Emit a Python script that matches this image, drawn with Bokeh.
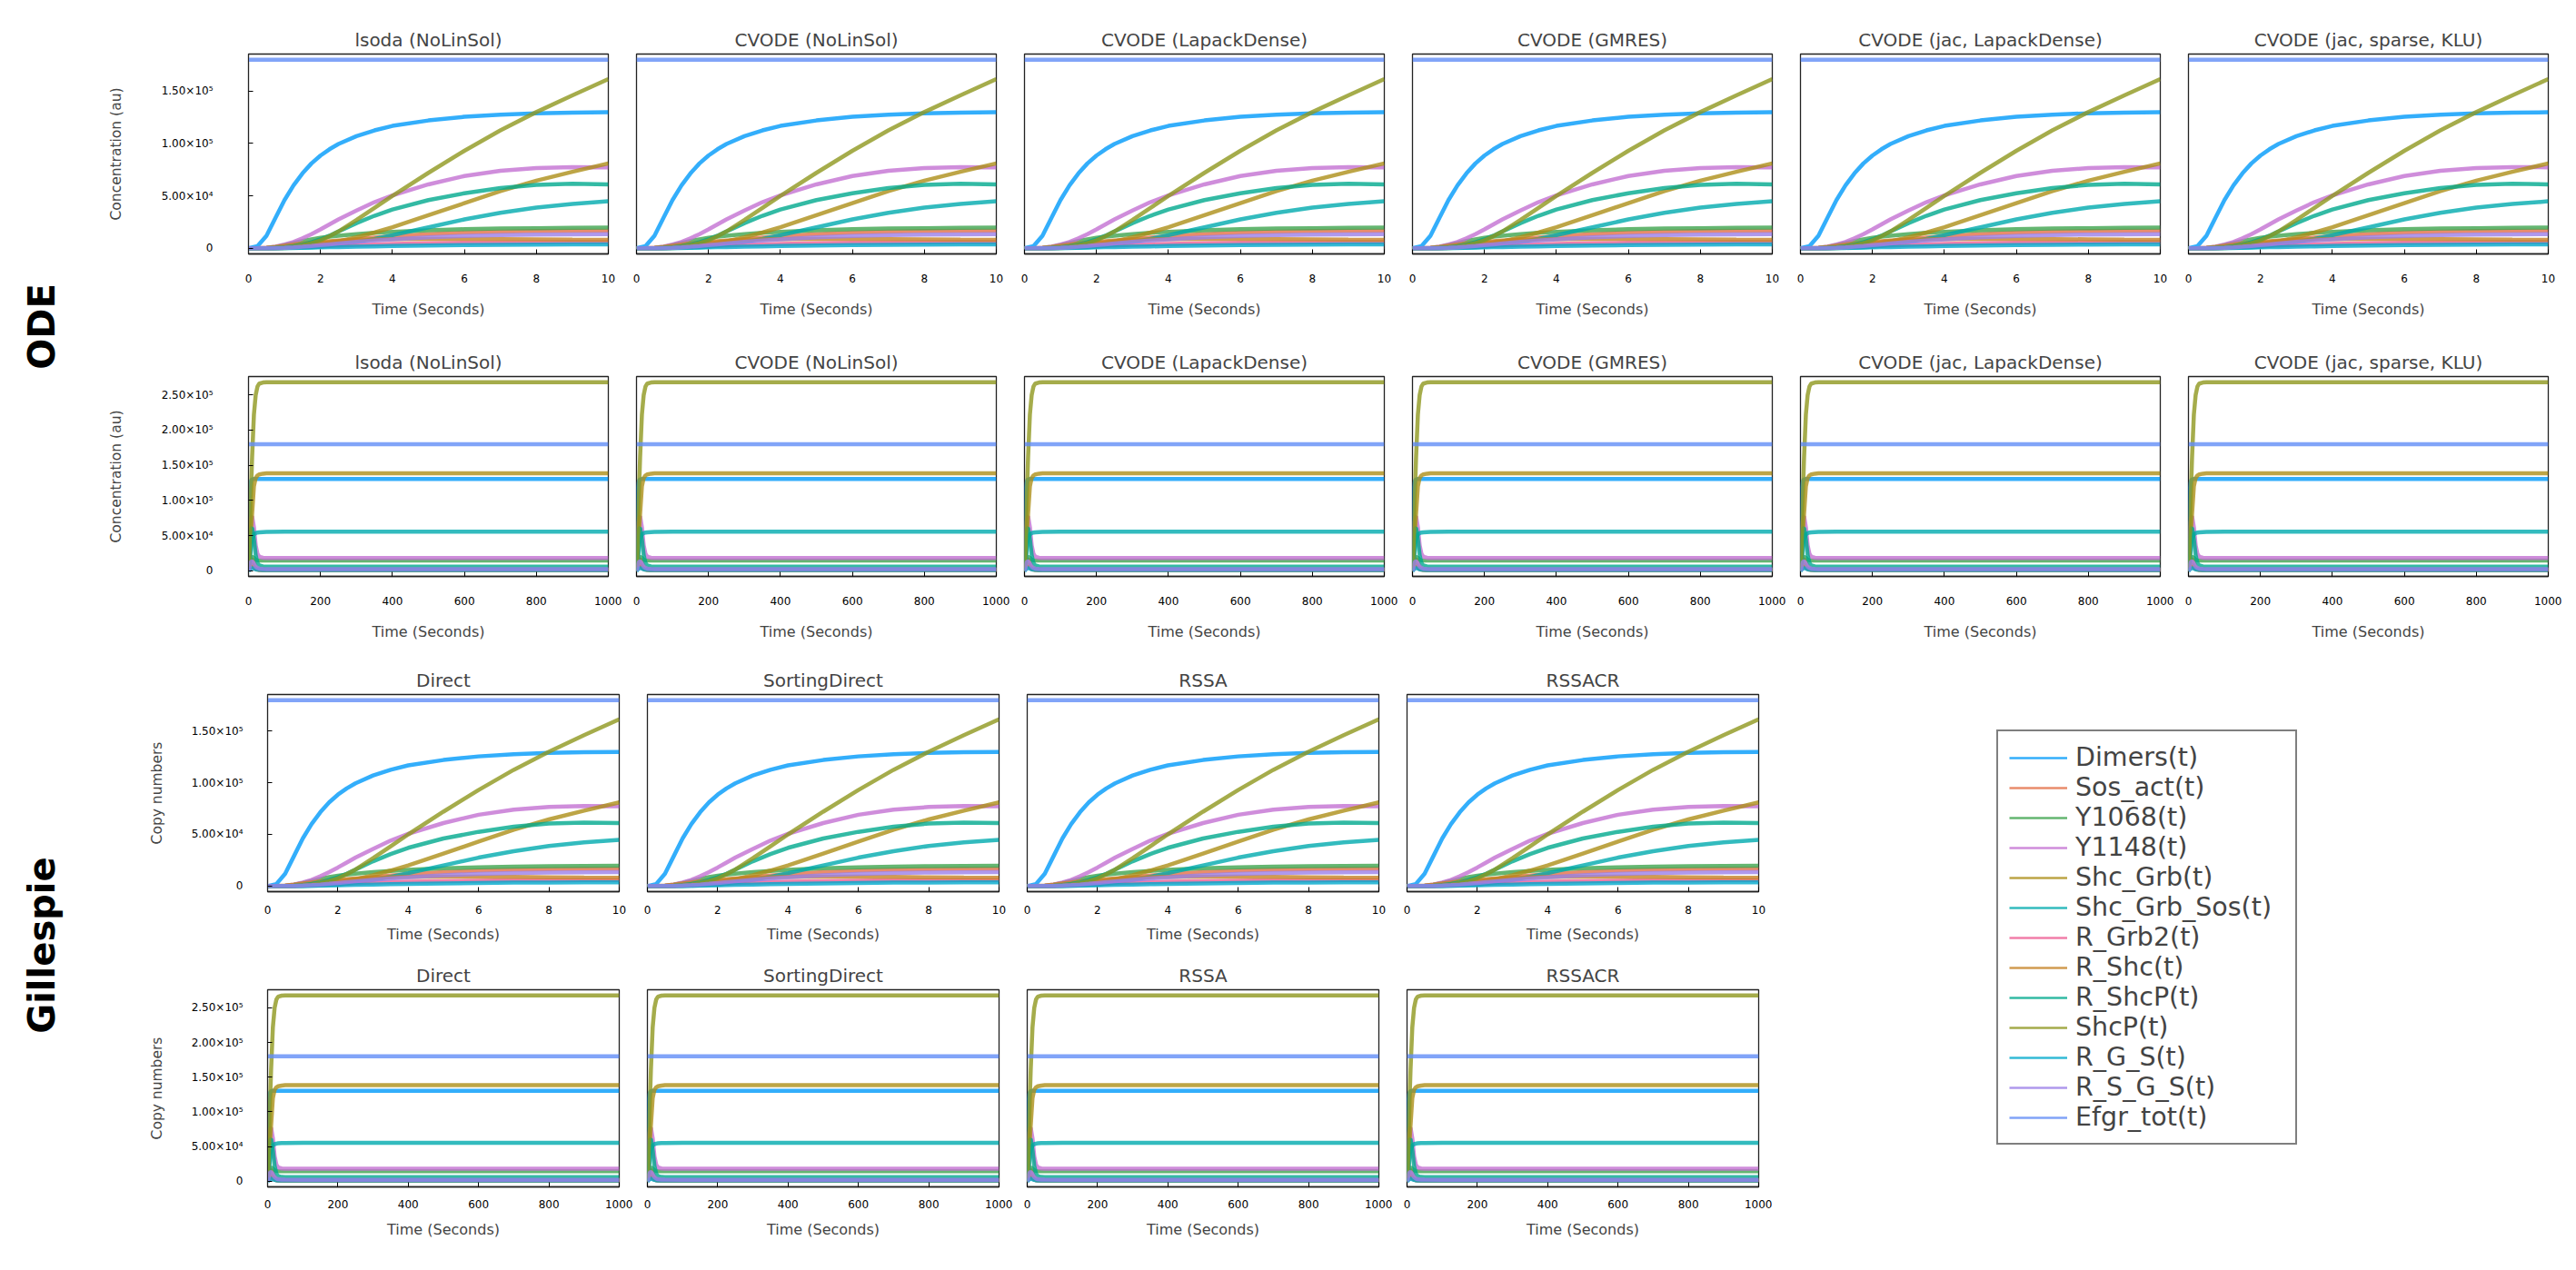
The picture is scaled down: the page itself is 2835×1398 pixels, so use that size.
from math import pi
from bokeh.plotting import figure
from bokeh.layouts import row, column
from bokeh.models import Range1d, FixedTicker, Label, Legend, LegendItem
from bokeh.embed import file_html
from bokeh.resources import INLINE

# ---------------- data ----------------
species = ["Dimers(t)", "Sos_act(t)", "Y1068(t)", "Y1148(t)", "Shc_Grb(t)", "Shc_Grb_Sos(t)",
           "R_Grb2(t)", "R_Shc(t)", "R_ShcP(t)", "ShcP(t)", "R_G_S(t)", "R_S_G_S(t)", "Efgr_tot(t)"]
colors = ["#009AFA", "#E36F47", "#3EA44E", "#C371D2", "#AC8E18", "#00AAAE", "#ED5E93",
          "#C68225", "#00A98D", "#8E971E", "#00A9CC", "#9B7FE8", "#618DF6"]

ode_titles = ["lsoda (NoLinSol)", "CVODE (NoLinSol)", "CVODE (LapackDense)", "CVODE (GMRES)",
              "CVODE (jac, LapackDense)", "CVODE (jac, sparse, KLU)"]
ssa_titles = ["Direct", "SortingDirect", "RSSA", "RSSACR"]

# short time span (0-10 s)
t_short = [0, 0.25, 0.5, 0.75, 1, 1.25, 1.5, 1.75, 2, 2.25, 2.5, 3, 3.5, 4, 5, 6, 7, 8, 9, 10]
dimers_s = [0, 2000, 12000, 29000, 46000, 60000, 71500, 81000, 88500, 94500, 99500, 107000, 112500, 116800, 122000, 125500, 127500, 128900, 129500, 129800]
sos_act_s = [0, 0, 100, 400, 1000, 1800, 2800, 3800, 4800, 5800, 6800, 8600, 10200, 11500, 13500, 15000, 15900, 16400, 16700, 16800]
y1068_s = [0, 0, 300, 1200, 3000, 5000, 7000, 8600, 10000, 11100, 12000, 13500, 14700, 15700, 17200, 18200, 18800, 19200, 19500, 19700]
y1148_s = [0, 50, 400, 1500, 3500, 6000, 9500, 13500, 18000, 22800, 27500, 36000, 44000, 50500, 61000, 69000, 74000, 76500, 77500, 77300]
shc_grb_s = [0, 0, 20, 100, 300, 700, 1300, 2300, 3500, 4900, 6500, 10500, 15000, 20000, 31500, 43000, 54500, 64500, 73000, 81000]
shc_grb_sos_s = [0, 0, 0, 50, 150, 300, 500, 900, 1500, 2400, 3500, 6000, 9000, 12500, 20000, 27500, 33800, 38800, 42300, 44800]
r_grb2_s = [0, 0, 100, 300, 500, 800, 1200, 1600, 2000, 2400, 2700, 3300, 3800, 4200, 4800, 5200, 5500, 5700, 5800, 5800]
r_shc_s = [0, 100, 500, 1400, 2500, 3500, 4500, 5400, 6200, 6800, 7300, 8000, 8500, 8800, 9000, 9000, 8800, 8500, 8200, 8000]
r_shcp_s = [0, 0, 100, 400, 1000, 2000, 3500, 5800, 8500, 12000, 16000, 24000, 31000, 37000, 46000, 52500, 57500, 60500, 61500, 61000]
shcp_s = [0, 0, 100, 300, 700, 1500, 2800, 4800, 7500, 11500, 16000, 27000, 38500, 50000, 72000, 93000, 112500, 130000, 146000, 161500]
r_g_s_s = [0, 0, 20, 80, 200, 350, 500, 650, 800, 1000, 1200, 1500, 1800, 2100, 2600, 3000, 3300, 3500, 3600, 3700]
r_s_g_s_s = [0, 0, 50, 200, 500, 900, 1500, 2200, 3000, 3800, 4600, 6000, 7300, 8500, 10400, 11800, 12600, 13100, 13300, 13400]
efgr_tot_s = [180000, 180000, 180000, 180000, 180000, 180000, 180000, 180000, 180000, 180000,
              180000, 180000, 180000, 180000, 180000, 180000, 180000, 180000, 180000, 180000]

# long time span (0-1000 s)
t_long = [0, 2, 4, 6, 8, 10, 15, 20, 25, 30, 40, 50, 100, 200, 500, 1000]
dimers_l = [0, 89000, 116800, 125500, 128900, 129800, 130300, 130500, 130500, 130500, 130500, 130500, 130500, 130500, 130500, 130500]
sos_act_l = [0, 4800, 11500, 15000, 16400, 16800, 12000, 6000, 3500, 2500, 2000, 1900, 1800, 1800, 1800, 1800]
y1068_l = [0, 10000, 15700, 18200, 19200, 19700, 18500, 16000, 15000, 14700, 14600, 14600, 14600, 14600, 14600, 14600]
y1148_l = [0, 18000, 50500, 69000, 76500, 77300, 62000, 36000, 24000, 20000, 18500, 18200, 18000, 18000, 18000, 18000]
shc_grb_l = [0, 3500, 20000, 43000, 64500, 81000, 120000, 132000, 135500, 137000, 138000, 138500, 138500, 138500, 138500, 138500]
shc_grb_sos_l = [0, 1500, 12500, 27500, 38800, 44800, 51500, 53500, 54300, 54700, 55000, 55200, 55500, 55500, 55500, 55500]
r_grb2_l = [0, 2000, 4200, 5200, 5700, 5800, 4000, 2500, 1800, 1500, 1300, 1200, 1200, 1200, 1200, 1200]
r_shc_l = [0, 6200, 8800, 9000, 8500, 8000, 5000, 2500, 1500, 1000, 800, 700, 700, 700, 700, 700]
r_shcp_l = [0, 8500, 37000, 52500, 60500, 61000, 45000, 22000, 11000, 7500, 6200, 6000, 5900, 5900, 5900, 5900]
shcp_l = [0, 7500, 50000, 93000, 130000, 161500, 222000, 250000, 262000, 266000, 267500, 268000, 268000, 268000, 268000, 268000]
r_g_s_l = [0, 800, 2100, 3000, 3500, 3700, 3000, 2000, 1500, 1200, 1000, 1000, 1000, 1000, 1000, 1000]
r_s_g_s_l = [0, 3000, 8500, 11800, 13100, 13400, 10000, 6000, 4000, 3000, 2500, 2300, 2200, 2200, 2200, 2200]
efgr_tot_l = [180000, 180000, 180000, 180000, 180000, 180000, 180000, 180000, 180000, 180000,
              180000, 180000, 180000, 180000, 180000, 180000]

x_ticks_short = [0, 2, 4, 6, 8, 10]
x_ticks_long = [0, 200, 400, 600, 800, 1000]
y_ticks_short = [0, 50000, 100000, 150000]
y_labels_short = ["0", "5.00×10⁴", "1.00×10⁵", "1.50×10⁵"]
y_ticks_long = [0, 50000, 100000, 150000, 200000, 250000]
y_labels_long = ["0", "5.00×10⁴", "1.00×10⁵", "1.50×10⁵", "2.00×10⁵", "2.50×10⁵"]

short_series = [dimers_s, sos_act_s, y1068_s, y1148_s, shc_grb_s, shc_grb_sos_s, r_grb2_s,
                r_shc_s, r_shcp_s, shcp_s, r_g_s_s, r_s_g_s_s, efgr_tot_s]
long_series = [dimers_l, sos_act_l, y1068_l, y1148_l, shc_grb_l, shc_grb_sos_l, r_grb2_l,
               r_shc_l, r_shcp_l, shcp_l, r_g_s_l, r_s_g_s_l, efgr_tot_l]

FONT = "DejaVu Sans"


def yrange(series):
    top = max(max(s) for s in series)
    return (-0.03 * top, 1.03 * top)


def panel(title, t, series, xmax, xticks, yticks, ylabels, first, ylabel,
          L, R, T, B, fw, fh, xstand, xlstand, ystand, ylstand):
    ylo, yhi = yrange(series)
    p = figure(width=L + fw + R, height=T + fh + B, title=title,
               x_range=Range1d(0, xmax), y_range=Range1d(ylo, yhi),
               min_border_left=L, min_border_right=R, min_border_top=T, min_border_bottom=B,
               y_axis_location="left" if first else None,
               toolbar_location=None, output_backend="svg")
    for vals, col in zip(series, colors):
        p.line(t, vals, color=col, line_width=4.5, line_alpha=0.8)
    p.grid.visible = False
    p.outline_line_color = "#222222"
    p.outline_line_width = 1.3
    p.title.text_font = FONT
    p.title.text_font_size = "20px"
    p.title.text_font_style = "normal"
    p.title.align = "center"
    p.title.standoff = 8
    ax = p.xaxis[0]
    ax.ticker = FixedTicker(ticks=xticks)
    ax.minor_tick_line_color = None
    ax.major_tick_in = 5
    ax.major_tick_out = 0
    ax.major_label_standoff = xstand
    ax.major_label_text_font = FONT
    ax.major_label_text_font_size = "12px"
    ax.major_label_text_color = "black"
    ax.axis_label = "Time (Seconds)"
    ax.axis_label_text_font = FONT
    ax.axis_label_text_font_size = "16px"
    ax.axis_label_text_font_style = "normal"
    ax.axis_label_standoff = xlstand
    ax.axis_line_color = "#222222"
    ax.axis_line_width = 1.3
    if first:
        ay = p.yaxis[0]
        ay.ticker = FixedTicker(ticks=yticks)
        ay.major_label_overrides = dict(zip(yticks, ylabels))
        ay.minor_tick_line_color = None
        ay.major_tick_in = 5
        ay.major_tick_out = 0
        ay.major_label_standoff = ystand
        ay.major_label_text_font = FONT
        ay.major_label_text_font_size = "12px"
        ay.major_label_text_color = "black"
        ay.axis_label = ylabel
        ay.axis_label_text_font = FONT
        ay.axis_label_text_font_size = "15.5px"
        ay.axis_label_text_font_style = "normal"
        ay.axis_label_standoff = ylstand
        ay.axis_line_color = "#222222"
    return p


def strip(text, h, ycenter):
    s = figure(width=90, height=h, x_range=Range1d(0, 1), y_range=Range1d(0, 1),
               min_border=0, x_axis_location=None, y_axis_location=None,
               toolbar_location=None, output_backend="svg", outline_line_color=None)
    s.grid.visible = False
    s.add_layout(Label(x=45, y=ycenter, x_units="screen", y_units="screen", text=text,
                       angle=pi / 2, text_align="center", text_baseline="middle",
                       text_font=FONT, text_font_size="40px", text_font_style="bold",
                       text_color="black"))
    return s


# ---------------- ODE rows ----------------
row1, row2 = [], []
for i, ttl in enumerate(ode_titles):
    first = i == 0
    L = 183 if first else 16
    row1.append(panel(ttl, t_short, short_series, 10, x_ticks_short, y_ticks_short, y_labels_short,
                      first, "Concentration (au)", L, 15, 59, 91, 396, 220, 22, 17, 39, 38))
    row2.append(panel(ttl, t_long, long_series, 1000, x_ticks_long, y_ticks_long, y_labels_long,
                      first, "Concentration (au)", L, 15, 44, 84, 396, 220, 22, 17, 39, 38))

# ---------------- Gillespie rows ----------------
row3, row4 = [], []
for i, ttl in enumerate(ssa_titles):
    first = i == 0
    L = 204 if first else 16
    row3.append(panel(ttl, t_short, short_series, 10, x_ticks_short, y_ticks_short, y_labels_short,
                      first, "Copy numbers", L, 15, 46, 64, 387, 217, 15, 10, 27, 26))
    row4.append(panel(ttl, t_long, long_series, 1000, x_ticks_long, y_ticks_long, y_labels_long,
                      first, "Copy numbers", L, 15, 44, 92, 387, 217, 14, 11, 27, 26))

# ---------------- legend ----------------
leg_fig = figure(width=885, height=680, x_range=Range1d(20, 30), y_range=Range1d(0, 1),
                 min_border=0, x_axis_location=None, y_axis_location=None,
                 toolbar_location=None, output_backend="svg", outline_line_color=None)
leg_fig.grid.visible = False
items = []
for name, col, vals in zip(species, colors, short_series):
    r = leg_fig.line(t_short, vals, color=col, line_width=2.5, line_alpha=0.8)
    items.append(LegendItem(label=name, renderers=[r]))
legend = Legend(items=items, location=(247, 138), orientation="vertical",
                label_text_font=FONT, label_text_font_size="28.5px",
                glyph_width=64, glyph_height=32, label_height=32, label_width=230,
                label_standoff=9, spacing=0, padding=12, margin=0,
                border_line_color="black", border_line_width=2,
                background_fill_color="white", background_fill_alpha=1.0)
leg_fig.add_layout(legend)

top = row(strip("ODE", 718, 359), column(row(*row1), row(*row2)))
bottom = row(strip("Gillespie", 680, 358), column(row(*row3), row(*row4)), leg_fig)
page = column(top, bottom)

open("out.html", "w").write(file_html(page, INLINE))
